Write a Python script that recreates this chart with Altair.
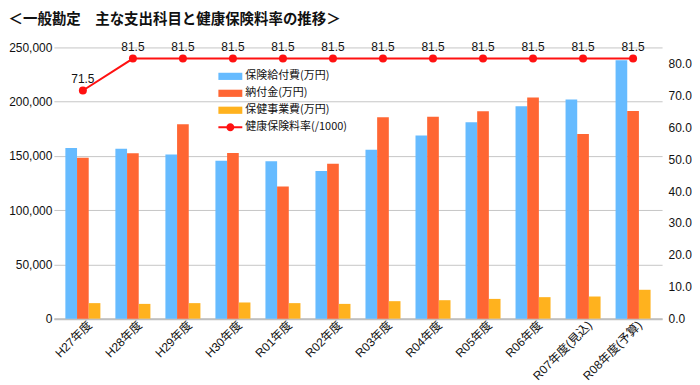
import altair as alt
import pandas as pd

years = ["H27年度", "H28年度", "H29年度", "H30年度", "R01年度", "R02年度",
         "R03年度", "R04年度", "R05年度", "R06年度", "R07年度(見込)", "R08年度(予算)"]
benefits = [157300, 156700, 151200, 145600, 145000, 136200,
            155700, 168800, 181000, 195700, 202100, 238100]
contributions = [148200, 152500, 179200, 152800, 121900, 142700,
                 185600, 186200, 191100, 203900, 170300, 191400]
health = [14300, 13600, 14300, 14900, 14300, 13600,
          16100, 17000, 18200, 19800, 20400, 26600]
rates = [71.5, 81.5, 81.5, 81.5, 81.5, 81.5, 81.5, 81.5, 81.5, 81.5, 81.5, 81.5]

series_names = ["保険給付費(万円)", "納付金(万円)", "保健事業費(万円)"]
rate_name = "健康保険料率(/1000)"
bar_colors = ["#66BBFF", "#FF6633", "#FFB21E"]
red = "#FF1111"

rows = []
for name, vals in zip(series_names, [benefits, contributions, health]):
    for y, v in zip(years, vals):
        rows.append({"year": y, "series": name, "value": v})
df = pd.DataFrame(rows)
rdf = pd.DataFrame({"year": years, "rate": rates, "lbl": [rate_name] * len(years)})

num_font = "Liberation Sans"
mix_font = "Liberation Sans, Noto Sans CJK JP"
jp_font = "Noto Sans CJK JP"

x_enc = alt.X("year:N", sort=years,
              scale=alt.Scale(paddingInner=0.3, paddingOuter=0.23),
              axis=alt.Axis(title=None, labelAngle=-45, labelAlign="right",
                            labelBaseline="middle", ticks=False, labelOffset=7,
                            domainColor="#bfbfbf", domainWidth=2,
                            labelFont=mix_font, labelFontSize=12,
                            labelColor="#111111", labelPadding=4))

bars = alt.Chart(df).mark_bar().encode(
    x=x_enc,
    xOffset=alt.XOffset("series:N", sort=series_names),
    y=alt.Y("value:Q", scale=alt.Scale(domain=[0, 250000], nice=False),
            axis=alt.Axis(title=None, values=[0, 50000, 100000, 150000, 200000, 250000],
                          format=",.0f", ticks=False, domain=False,
                          gridColor="#c6c6c6", gridWidth=1,
                          labelFont=num_font, labelFontSize=12,
                          labelColor="#111111", labelPadding=2)),
    color=alt.Color("series:N", sort=series_names,
                    scale=alt.Scale(domain=series_names, range=bar_colors),
                    legend=alt.Legend(orient="none", legendX=171, legendY=23,
                                      title=None, symbolType="M-2,-0.6H2V0.6H-2Z",
                                      symbolSize=144, symbolStrokeWidth=0,
                                      labelOffset=9, rowPadding=6,
                                      labelFont=jp_font, labelFontSize=11,
                                      labelColor="#111111")),
)

y_rate = alt.Y("rate:Q", scale=alt.Scale(domain=[0, 85], nice=False),
               axis=alt.Axis(orient="right", title=None,
                             values=[0, 10, 20, 30, 40, 50, 60, 70, 80],
                             format=".1f", grid=False, ticks=False, domain=False,
                             labelFont=num_font, labelFontSize=12,
                             labelColor="#111111", labelPadding=6))

line = alt.Chart(rdf).mark_line(color=red, strokeWidth=2).encode(x=x_enc, y=y_rate)
points = alt.Chart(rdf).mark_circle(size=64, opacity=1).encode(
    x=x_enc, y=y_rate,
    fill=alt.Fill("lbl:N", scale=alt.Scale(domain=[rate_name], range=[red]),
                  legend=alt.Legend(orient="none", legendX=171, legendY=74,
                                    title=None,
                                    symbolType="M-2,-0.17H2V0.17H-2Z M0.67,0A0.67,0.67 0 1,1 -0.67,0A0.67,0.67 0 1,1 0.67,0Z",
                                    symbolSize=144, symbolStrokeWidth=0,
                                    symbolOpacity=1,
                                    labelOffset=9,
                                    labelFont=jp_font, labelFontSize=11,
                                    labelColor="#111111")),
)
labels = alt.Chart(rdf).mark_text(dy=-12, fontSize=12, font=num_font, color="#111111").encode(
    x=x_enc, y=y_rate, text=alt.Text("rate:Q", format=".1f"))

rate_layer = alt.layer(line, points, labels)

chart = alt.layer(bars, rate_layer).resolve_scale(y="independent").properties(
    width=610, height=272,
    padding={"left": 0, "top": 3, "right": 0, "bottom": 0},
    title=alt.TitleParams("＜一般勘定　主な支出科目と健康保険料率の推移＞",
                          anchor="start", font=jp_font, fontSize=14.5,
                          fontWeight="bold", color="#111111", offset=13),
).configure_view(strokeWidth=0)

chart.save("out.html", embed_options={"renderer": "svg", "actions": False})
